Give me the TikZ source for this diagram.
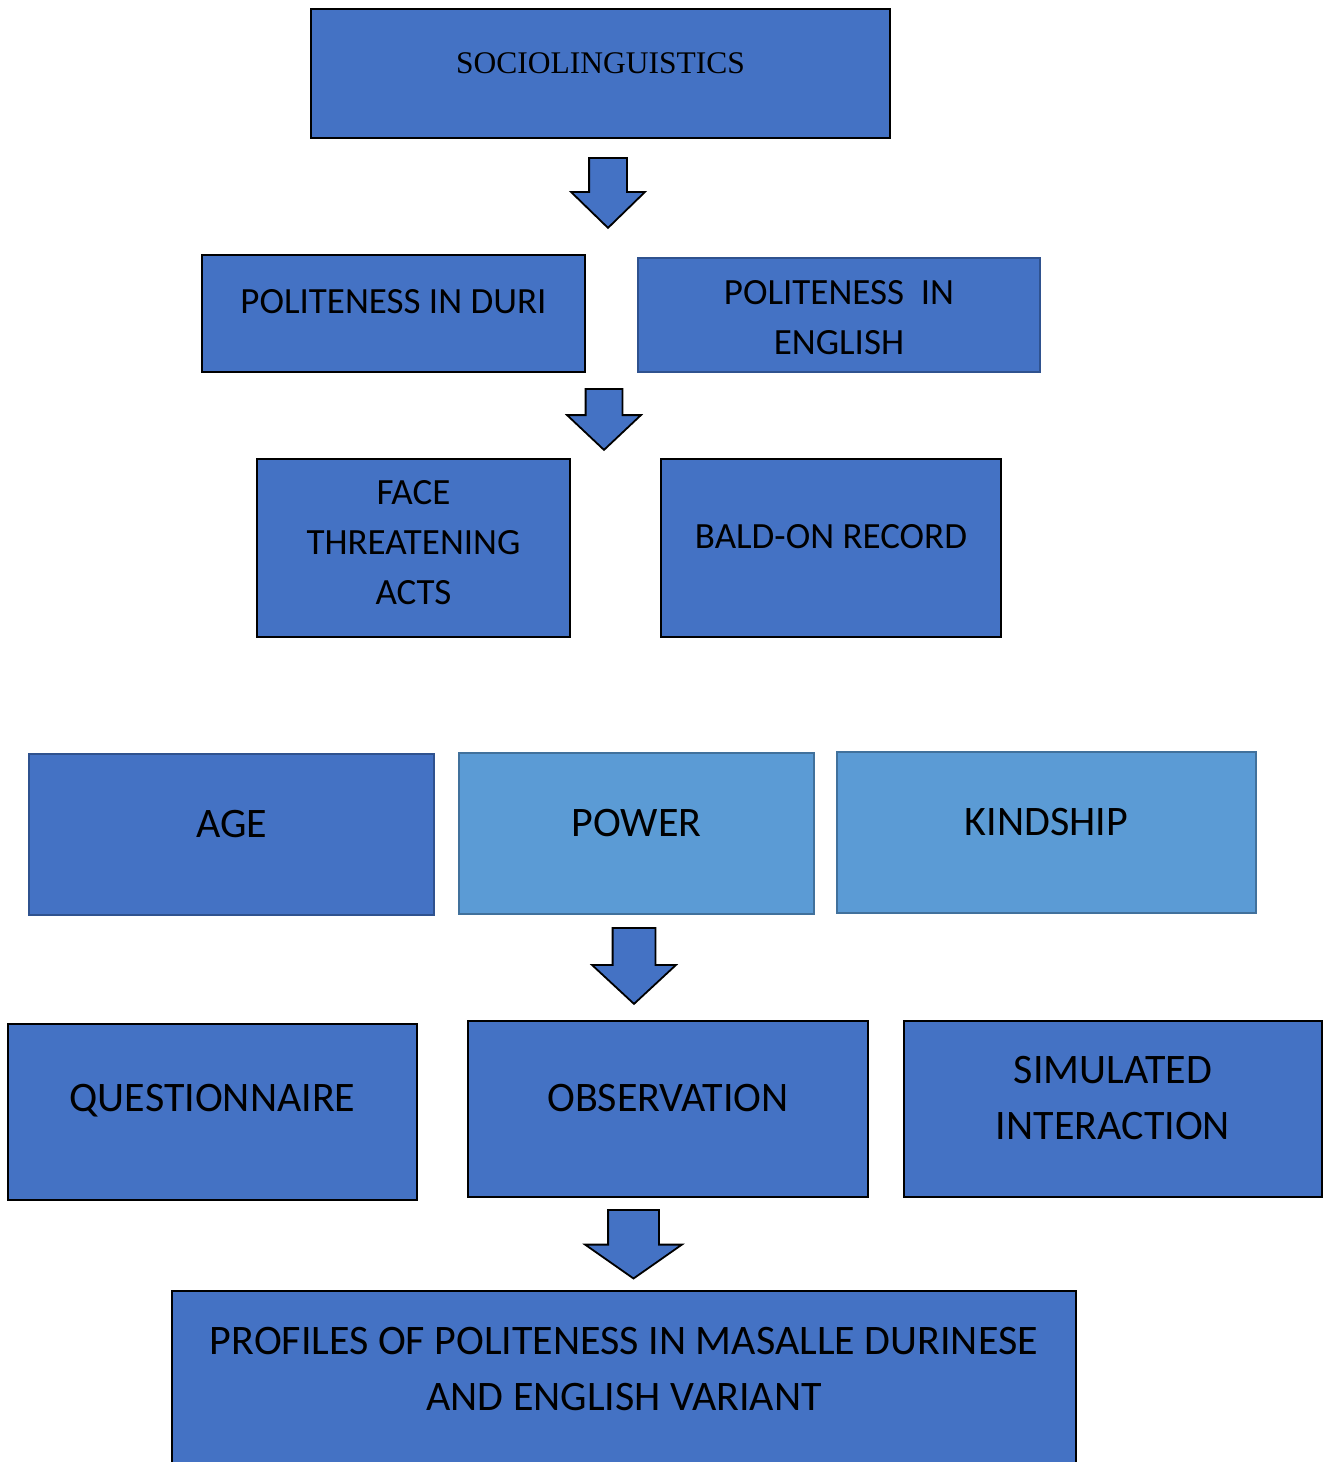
\documentclass[tikz,border=0pt]{standalone}
\usepackage{fontspec}
\setmainfont{Carlito}
\newfontfamily\timesfont{Liberation Serif}
\usetikzlibrary{shapes.arrows}
\definecolor{boxblue}{HTML}{4472C4}
\definecolor{lightblue}{HTML}{5B9BD5}
\definecolor{edgeblue}{HTML}{2F528F}
\definecolor{edgelight}{HTML}{41719C}
\begin{document}
\begin{tikzpicture}[x=1pt,y=-1pt]

  % Definitions
  \tikzstyle{Box} = [rectangle, fill=boxblue, draw=black, line width=2.2pt, inner sep=0pt]
  \tikzstyle{BlueBox} = [Box, draw=edgeblue, line width=1.6pt]
  \tikzstyle{LightBox} = [Box, fill=lightblue, draw=edgelight, line width=1.6pt]
  \tikzstyle{Mid} = [align=center, inner sep=0pt, font=\fontsize{37}{50}\selectfont]
  \tikzstyle{Big} = [align=center, inner sep=0pt, font=\fontsize{42}{56}\selectfont]
  \tikzstyle{DownArrow} = [single arrow, shape border rotate=270, anchor=tail, fill=boxblue, draw=black, line width=1.8pt, single arrow head indent=0pt]

  \useasboundingbox (0,0) rectangle (1329,1462);

  \node (socio) [Box, minimum width=579, minimum height=129, label={[align=center, inner sep=0pt, font=\timesfont\fontsize{31.5}{38}\selectfont, yshift=10.5pt]center:SOCIOLINGUISTICS}] at (600.5,73.5) {};

  \node (duri) [Box, minimum width=383, minimum height=117, label={[Mid, yshift=11.5pt]center:POLITENESS IN DURI}] at (393.5,313.5) {};
  \node (english) [BlueBox, minimum width=402, minimum height=114, label={[Mid, yshift=-2.5pt]center:POLITENESS\ \ IN\\ENGLISH}] at (839,315) {};

  \node (fta) [Box, minimum width=313, minimum height=178, label={[Mid, yshift=5pt]center:FACE\\THREATENING\\ACTS}] at (413.5,548) {};
  \node (bald) [Box, minimum width=340, minimum height=178, label={[Mid, yshift=11pt]center:BALD-ON RECORD}] at (831,548) {};

  \node (age) [BlueBox, minimum width=405, minimum height=161, label={[Big, yshift=10.5pt]center:AGE}] at (231.5,834.5) {};
  \node (power) [LightBox, minimum width=355, minimum height=161, label={[Big, yshift=10.5pt]center:POWER}] at (636.5,833.5) {};
  \node (kindship) [LightBox, minimum width=419, minimum height=161, label={[Big, yshift=10.5pt]center:KINDSHIP}] at (1046.5,832.5) {};

  \node (quest) [Box, minimum width=409, minimum height=176, label={[Big, yshift=11pt]center:QUESTIONNAIRE}] at (212.5,1112) {};
  \node (obs) [Box, minimum width=400, minimum height=176, label={[Big, yshift=11pt]center:OBSERVATION}] at (668,1109) {};
  \node (sim) [Box, minimum width=418, minimum height=176, label={[Big, yshift=11pt]center:SIMULATED\\INTERACTION}] at (1113,1109) {};

  \node (profiles) [Box, minimum width=904, minimum height=178, label={[Big, yshift=11pt]center:PROFILES OF POLITENESS IN MASALLE DURINESE\\AND ENGLISH VARIANT}] at (624,1380) {};

  \node (arr1) [DownArrow, minimum height=70, inner sep=18pt, single arrow head extend=18pt, single arrow tip angle=91.6] at (608,157) {};
  \node (arr2) [DownArrow, minimum height=61, inner sep=17.5pt, single arrow head extend=18.5pt, single arrow tip angle=93.4] at (604,388) {};
  \node (arr3) [DownArrow, minimum height=76, inner sep=20.5pt, single arrow head extend=20.5pt, single arrow tip angle=94.3] at (634,927) {};
  \node (arr4) [DownArrow, minimum height=67, inner sep=24.5pt, single arrow head extend=23pt, single arrow tip angle=110] at (633.5,1209) {};

\end{tikzpicture}
\end{document}
